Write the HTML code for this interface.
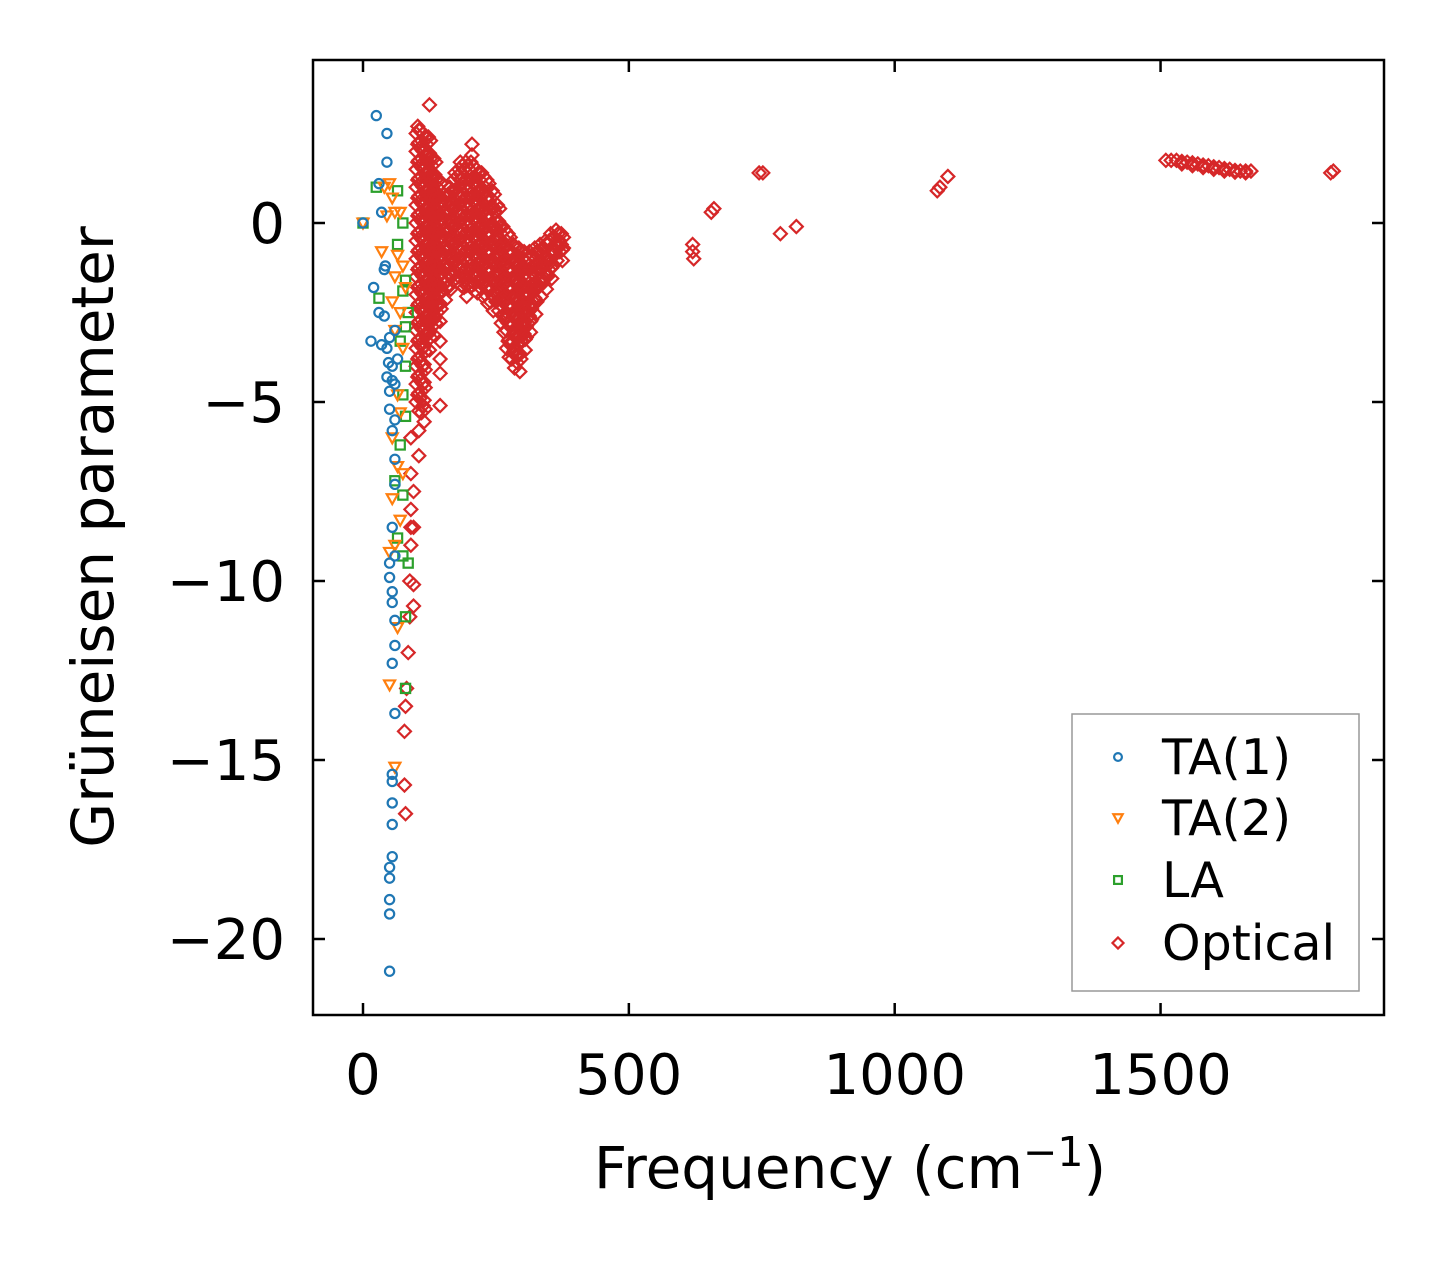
<!DOCTYPE html>
<html><head><meta charset="utf-8"><style>
html,body{margin:0;padding:0;background:#fff}
svg text{font-family:"DejaVu Sans","Liberation Sans",sans-serif;fill:#000}
</style></head><body>
<svg id="chart" width="1443" height="1264" viewBox="0 0 1443 1264" xmlns="http://www.w3.org/2000/svg">
<rect width="1443" height="1264" fill="#fff"/>
<g id="marks"></g>
<g id="axes"></g>
<g id="legend"></g>
</svg>
<script>
const xTicks = [0, 500, 1000, 1500];
const yTicks = [0, -5, -10, -15, -20];
const ta1 = [[0,0],[25,3.0],[45,2.5],[45,1.7],[30,1.1],[35,0.3],[40,-1.3],[20,-1.8],[30,-2.5],[40,-2.6],[15,-3.3],[35,-3.4],[45,-3.5],[45,-4.3],[50,-4.7],[55,-4.0],[50,-5.2],[55,-5.8],[60,-5.5],[60,-6.6],[60,-7.3],[55,-8.5],[60,-9.3],[50,-9.5],[50,-9.9],[55,-10.3],[55,-10.6],[60,-11.1],[60,-11.8],[55,-12.3],[60,-13.7],[55,-15.4],[55,-15.6],[55,-16.2],[55,-16.8],[55,-17.7],[50,-18],[50,-18.3],[50,-18.9],[50,-19.3],[50,-20.9],[60,-4.5],[65,-3.8],[60,-3],[50,-3.2],[55,-4.4],[42,-1.2],[48,-3.9]];
const ta2 = [[0,0],[40,1.0],[50,1.1],[55,0.7],[60,0.3],[70,0.3],[35,-0.8],[65,-0.9],[75,-1.2],[60,-1.5],[55,-2.2],[70,-2.5],[60,-3.0],[75,-3.5],[65,-4.8],[70,-5.3],[55,-6.0],[65,-6.8],[75,-7.0],[55,-7.7],[70,-8.3],[60,-9.0],[50,-9.2],[65,-11.3],[50,-12.9],[60,-15.2],[45,0.2],[80,-1.8]];
const la = [[0,0],[25,1.0],[65,0.9],[75,0],[65,-0.6],[80,-1.6],[75,-1.9],[80,-2.9],[70,-3.3],[80,-4.0],[75,-4.8],[80,-5.4],[70,-6.2],[60,-7.2],[75,-7.6],[65,-8.8],[75,-9.3],[85,-9.5],[80,-11.0],[80,-13.0],[30,-2.1],[85,-2.5]];
const opticalFreqs = [100,110,120,130,140,150,160,170,180,190,200,210,220,230,240,250,260,270,280,290,300,310,320,330,340,350,360,370];
const opticalCols = [
[2.5,2,1.5,1,0.5,0,-0.5,-1,-1.5,-2,-2.5,-3,-3.5,-4,-4.5,-5],
[2.3,1.8,1.3,0.8,0.3,-0.2,-0.7,-1.2,-1.7,-2.2,-2.7,-3.2,-3.7,-4.2,-4.7,-5.3],
[2.2,1.7,1.2,0.7,0.2,-0.3,-0.8,-1.3,-1.8,-2.3,-2.8,-3.3],
[1.6,1.1,0.6,0.1,-0.4,-0.9,-1.4,-1.9,-2.4,-2.9],
[1.0,0.5,0,-0.5,-1,-1.5,-2,-2.5],
[0.6,0.1,-0.4,-0.9,-1.4,-1.9],
[0.8,0.3,-0.2,-0.7,-1.2,-1.6],
[1.2,0.7,0.2,-0.3,-0.8,-1.3],
[1.5,1,0.5,0,-0.5,-1,-1.5],
[1.5,1,0.5,0,-0.5,-1,-1.5,-1.8],
[1.5,1,0.5,0,-0.5,-1,-1.5],
[1.3,0.8,0.3,-0.2,-0.7,-1.2,-1.7],
[1.2,0.7,0.2,-0.3,-0.8,-1.3,-1.8],
[1,0.5,0,-0.5,-1,-1.5,-2],
[0.7,0.2,-0.3,-0.8,-1.3,-1.8,-2.2],
[0.3,-0.2,-0.7,-1.2,-1.7,-2.2],
[-0.3,-0.8,-1.3,-1.8,-2.3,-2.8],
[-0.5,-1,-1.5,-2,-2.5,-3,-3.5],
[-0.8,-1.3,-1.8,-2.3,-2.8,-3.3,-3.8],
[-0.9,-1.4,-1.9,-2.4,-2.9,-3.4,-3.9],
[-1,-1.5,-2,-2.5,-3,-3.3],
[-1,-1.5,-2,-2.5,-2.8],
[-0.9,-1.4,-1.9,-2.3],
[-0.8,-1.3,-1.8],
[-0.7,-1.2,-1.6],
[-0.5,-1,-1.3],
[-0.4,-0.8],
[-0.5,-0.8]];
const opticalExtra = [[90,-6],[90,-7],[90,-8],[90,-8.5],[90,-9],[88,-10],[88,-11],[85,-12],[82,-13],[80,-13.5],[78,-14.2],[78,-15.7],[80,-16.5],[95,-7.5],[95,-8.5],[95,-10.1],[95,-10.7],[105,-5.8],[105,-6.5],[125,3.3],[105,2.6],[145,-3.3],[145,-3.8],[145,-4.2],[145,-5.1],[205,2.2],[205,1.9],[160,-1.8],[620,-0.6],[620,-0.8],[622,-1.0],[655,0.3],[660,0.4],[745,1.4],[752,1.4],[785,-0.3],[815,-0.1],[1080,0.9],[1085,1.0],[1100,1.3],[1510,1.75],[1520,1.75],[1530,1.75],[1540,1.72],[1550,1.7],[1560,1.68],[1570,1.65],[1580,1.62],[1590,1.6],[1600,1.57],[1610,1.55],[1620,1.52],[1630,1.5],[1640,1.47],[1650,1.45],[1660,1.45],[1670,1.45],[1540,1.65],[1560,1.6],[1580,1.55],[1600,1.5],[1620,1.45],[1640,1.42],[1660,1.4],[1820,1.4],[1825,1.45]];

const X = f => 363 + f * 0.5317;
const Y = g => 223 - g * 35.8;
const NS = "http://www.w3.org/2000/svg";
function mk(tag, attrs, parent){const e=document.createElementNS(NS,tag);for(const k in attrs)e.setAttribute(k,attrs[k]);parent.appendChild(e);return e;}
const marks = document.getElementById('marks');
function marker(kind, cx, cy, parent, scale){
  scale = scale || 1;
  let e;
  if(kind==='circle'){e=mk('circle',{cx:cx,cy:cy,r:4.6*scale,fill:'none',stroke:'#1f77b4','stroke-width':2.2},parent);}
  else if(kind==='tri'){const s=5.5*scale;e=mk('polygon',{points:`${cx-s},${cy-s*0.8} ${cx+s},${cy-s*0.8} ${cx},${cy+s}`,fill:'none',stroke:'#ff7f0e','stroke-width':2.2},parent);}
  else if(kind==='square'){const s=4.6*scale;e=mk('rect',{x:cx-s,y:cy-s,width:2*s,height:2*s,fill:'none',stroke:'#2ca02c','stroke-width':2.2},parent);}
  else {const s=6.5*scale;e=mk('polygon',{points:`${cx},${cy-s} ${cx+s},${cy} ${cx},${cy+s} ${cx-s},${cy}`,fill:'none',stroke:'#d62728','stroke-width':2.2},parent);}
  return e;
}
const jitter = [[0,0],[5,-0.25],[3,0.2],[7,0.1]];
opticalFreqs.forEach((f,i)=>{opticalCols[i].forEach(g=>{
  jitter.forEach(j=>{
    const e=marker('diamond',X(f+j[0]),Y(g+j[1]),marks);
    
    
  });
});});
opticalExtra.forEach(p=>{const e=marker('diamond',X(p[0]),Y(p[1]),marks);
  
  });
la.forEach(p=>{const e=marker('square',X(p[0]),Y(p[1]),marks);
  
  });
ta2.forEach(p=>{const e=marker('tri',X(p[0]),Y(p[1]),marks);
  
  });
ta1.forEach(p=>{const e=marker('circle',X(p[0]),Y(p[1]),marks);
  
  });

const axes=document.getElementById('axes');
const L=313,R=1384,T=60,B=1015;
const frame=mk('rect',{x:L,y:T,width:R-L,height:B-T,fill:'none',stroke:'#000','stroke-width':2.5},axes);


xTicks.forEach(v=>{const x=X(v);
  mk('line',{x1:x,y1:B,x2:x,y2:B-12,stroke:'#000','stroke-width':2.5},axes);
  mk('line',{x1:x,y1:T,x2:x,y2:T+12,stroke:'#000','stroke-width':2.5},axes);
  const t=mk('text',{x:x,y:1094,'text-anchor':'middle','font-size':56},axes);t.textContent=v;
  
  });
yTicks.forEach(v=>{const y=Y(v);
  mk('line',{x1:L,y1:y,x2:L+12,y2:y,stroke:'#000','stroke-width':2.5},axes);
  mk('line',{x1:R,y1:y,x2:R-12,y2:y,stroke:'#000','stroke-width':2.5},axes);
  const t=mk('text',{x:285,y:y+20,'text-anchor':'end','font-size':56},axes);t.textContent=v<0?'\u2212'+(-v):v;
  
  });
const xl=mk('text',{x:850,y:1188,'text-anchor':'middle','font-size':58},axes);
xl.innerHTML='Frequency (cm<tspan dy="-22" font-size="41">\u22121</tspan><tspan dy="22">)</tspan>';


const yl=mk('text',{x:0,y:0,'text-anchor':'middle','font-size':58,transform:'translate(113,537) rotate(-90)'},axes);
yl.textContent='Grüneisen parameter';



const lg=document.getElementById('legend');
const box=mk('rect',{x:1072,y:714,width:287,height:277,fill:'#fff',stroke:'#999','stroke-width':1.5},lg);


const entries=[['circle','TA(1)',757],['tri','TA(2)',818],['square','LA',880],['diamond','Optical',943]];
entries.forEach(en=>{const g=mk('g',{},lg);
  
  
  marker(en[0],1118,en[2],g,0.85);
  const t=mk('text',{x:1162,y:en[2]+17,'font-size':49},g);t.textContent=en[1];});
</script>
</body></html>
